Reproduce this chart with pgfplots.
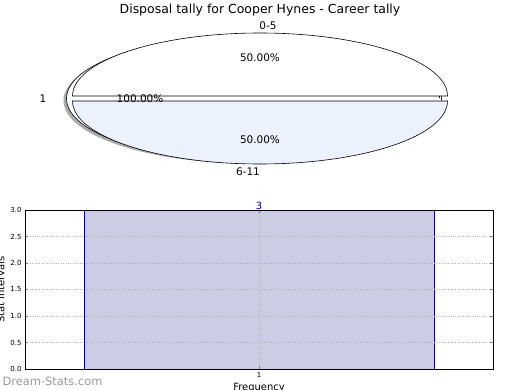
\documentclass[border=0pt]{standalone}
\usepackage{pgfplots}
\pgfplotsset{compat=1.18}
\usepackage{fontspec}
\setmainfont{DejaVu Sans}
\definecolor{barfill}{RGB}{204,204,229}
\definecolor{slicetwo}{RGB}{235,241,253}
\definecolor{navyc}{RGB}{0,0,128}
\begin{document}
\begin{tikzpicture}
\useasboundingbox (0bp,0bp) rectangle (520bp,390bp);
\clip (0bp,0bp) rectangle (520bp,390bp);
% pie panel in pixel units
\begin{axis}[at={(0bp,0bp)},anchor=south west,scale only axis,width=520bp,height=390bp,
  xmin=0,xmax=520,ymin=0,ymax=390,hide axis,clip=false]
  % slice "1" (100%) behind, with shadow
  \fill[gray!65] (251,289.5) ellipse [x radius=187.5bp, y radius=63bp];
  \draw[fill=white,line width=0.6pt] (254,291.5) ellipse [x radius=187.5bp, y radius=63bp];
  % slice 0-5
  \draw[fill=white,line width=0.6pt] (72.5,294) arc[start angle=180,end angle=0,x radius=187.5bp,y radius=63bp] -- cycle;
  % slice 6-11
  \draw[fill=slicetwo,line width=0.6pt] (72.5,289) arc[start angle=180,end angle=360,x radius=187.5bp,y radius=63bp] -- cycle;
  \draw[line width=0.5pt] (439.5,294) -- (439.5,291.5);
  \node[font=\fontsize{12.5}{14}\selectfont] at (260,380) {Disposal tally for Cooper Hynes - Career tally};
  \node[font=\fontsize{10.5}{12}\selectfont] at (268,364) {0-5};
  \node[font=\fontsize{10.5}{12}\selectfont] at (260,332) {50.00\%};
  \node[font=\fontsize{10.5}{12}\selectfont] at (260,250) {50.00\%};
  \node[font=\fontsize{10.5}{12}\selectfont] at (248,218) {6-11};
  \node[font=\fontsize{10.5}{12}\selectfont] at (43,291) {1};
  \node[font=\fontsize{10.5}{12}\selectfont] at (140,291) {100.00\%};
\end{axis}
% bar panel
\begin{axis}[at={(25bp,21bp)},anchor=south west,scale only axis,width=468bp,height=159bp,
  xmin=0.5,xmax=1.5,ymin=0,ymax=3,
  xtick={1},ytick={0,0.5,1,1.5,2,2.5,3},
  yticklabel style={/pgf/number format/.cd,fixed,fixed zerofill,precision=1,assume math mode=true},
  xticklabel style={/pgf/number format/assume math mode=true},
  tick label style={font=\fontsize{7}{8}\selectfont},
  major tick length=3bp,
  grid=major,grid style={dotted,gray!60,line width=0.7pt},
  axis on top,
  axis line style={line width=0.6pt},
  xlabel={Frequency},ylabel={Stat intervals},
  label style={font=\fontsize{10}{11}\selectfont},
  xlabel style={yshift=1bp},
  ylabel style={yshift=-1bp},
  nodes near coords,
  every node near coord/.append style={navyc,font=\fontsize{10}{11}\selectfont,inner sep=0.5pt,
    /pgf/number format/assume math mode=true},
  ]
  \addplot[ybar,bar width=0.748,fill=barfill,draw=navyc,line width=0.6pt] coordinates {(1,3)};
\end{axis}
\node[anchor=west,text=gray!80,font=\fontsize{11.5}{13}\selectfont] at (-1bp,9bp) {Dream-Stats.com};
\end{tikzpicture}
\end{document}
